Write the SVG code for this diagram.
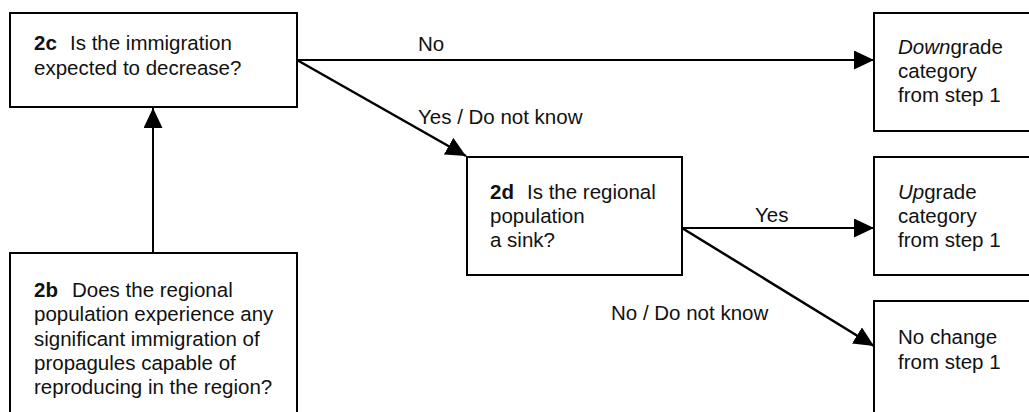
<svg xmlns="http://www.w3.org/2000/svg" width="1029" height="412" viewBox="0 0 1029 412">
<style>
.box{fill:#fff;stroke:#000;stroke-width:2}
.t{font-family:"Liberation Sans",Arial,sans-serif;font-size:20.5px;fill:#111}
.b{font-weight:bold}
.i{font-style:italic}
.c{stroke:#000;stroke-width:2;fill:none}
.d{stroke:#000;stroke-width:2.5;fill:none}
</style>
<defs>
<marker id="ah" markerUnits="userSpaceOnUse" markerWidth="20" markerHeight="19" refX="20" refY="9.5" orient="auto" viewBox="0 0 20 19">
<path d="M0,0 L20,9.5 L0,19 z" fill="#000"/>
</marker>
</defs>
<rect width="1029" height="412" fill="#fff"/>
<g id="connectors">
<line class="c" x1="297" y1="60" x2="874" y2="60" marker-end="url(#ah)"/>
<line class="d" x1="297" y1="60" x2="466" y2="156" marker-end="url(#ah)"/>
<line class="c" x1="153" y1="253" x2="153" y2="108" marker-end="url(#ah)"/>
<line class="c" x1="682" y1="228" x2="874" y2="228" marker-end="url(#ah)"/>
<line class="d" x1="682" y1="228" x2="874" y2="346" marker-end="url(#ah)"/>
<text class="t" x="418" y="51">No</text>
<text class="t" x="418" y="124">Yes / Do not know</text>
<text class="t" x="755" y="222">Yes</text>
<text class="t" x="611" y="320">No / Do not know</text>
</g>
<g id="n2c">
<rect class="box" x="10" y="13" width="287" height="94"/>
<text class="t" x="34" y="50"><tspan class="b">2c</tspan><tspan x="70">Is the immigration</tspan></text>
<text class="t" x="34" y="75">expected to decrease?</text>
</g>
<g id="n2b">
<rect class="box" x="10" y="253" width="287" height="170"/>
<text class="t" x="34" y="297"><tspan class="b">2b</tspan><tspan x="72">Does the regional</tspan></text>
<text class="t" x="34" y="321">population experience any</text>
<text class="t" x="34" y="346">significant immigration of</text>
<text class="t" x="34" y="370">propagules capable of</text>
<text class="t" x="34" y="394">reproducing in the region?</text>
</g>
<g id="n2d">
<rect class="box" x="467" y="157" width="215" height="118"/>
<text class="t" x="490" y="199"><tspan class="b">2d</tspan><tspan x="527">Is the regional</tspan></text>
<text class="t" x="490" y="223">population</text>
<text class="t" x="490" y="247">a sink?</text>
</g>
<g id="down">
<rect class="box" x="874" y="13" width="170" height="118"/>
<text class="t" x="898" y="54"><tspan class="i">Down</tspan>grade</text>
<text class="t" x="898" y="78">category</text>
<text class="t" x="898" y="102">from step 1</text>
</g>
<g id="up">
<rect class="box" x="874" y="157" width="170" height="118"/>
<text class="t" x="898" y="199"><tspan class="i">Up</tspan>grade</text>
<text class="t" x="898" y="223">category</text>
<text class="t" x="898" y="247">from step 1</text>
</g>
<g id="nochange">
<rect class="box" x="874" y="301" width="170" height="130"/>
<text class="t" x="898" y="344">No change</text>
<text class="t" x="898" y="369">from step 1</text>
</g>
</svg>
